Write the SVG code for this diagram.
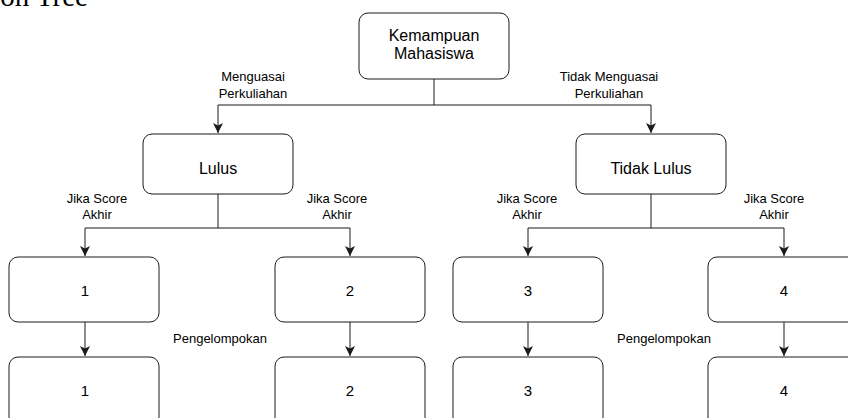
<svg xmlns="http://www.w3.org/2000/svg" width="848" height="418" viewBox="0 0 848 418">
  <style>
    .node rect { fill: #ffffff; stroke: #1a1a1a; stroke-width: 1; }
    .title { font-family: "Liberation Serif", "Times New Roman", serif; font-size: 29px; fill: #000; }
    .lbl { font-family: "Liberation Sans", Arial, sans-serif; font-size: 16px; fill: #000; text-anchor: middle; }
    .num { font-family: "Liberation Sans", Arial, sans-serif; font-size: 15px; fill: #000; text-anchor: middle; }
    .elbl { font-family: "Liberation Sans", Arial, sans-serif; font-size: 13px; fill: #000; text-anchor: middle; }
    .edges path { fill: none; stroke: #1a1a1a; stroke-width: 1; }
  </style>
  <defs>
    <marker id="arrow" viewBox="0 0 10 10" refX="10" refY="5" markerWidth="10" markerHeight="10" markerUnits="userSpaceOnUse" orient="auto">
      <path d="M0,0 L10,5 L0,10 L2.5,5 Z" fill="#1a1a1a"/>
    </marker>
  </defs>
  <rect width="848" height="418" fill="#ffffff"/>

  <!-- page heading, partly outside the frame -->
  <text class="title" x="88" y="6" text-anchor="end">Decision Tree</text>

  <!-- connectors -->
  <g class="edges">
    <path d="M434,79 V105 H218 V133" marker-end="url(#arrow)"/>
    <path d="M434,105 H651 V133" marker-end="url(#arrow)"/>
    <path d="M218,194 V228 H85 V256" marker-end="url(#arrow)"/>
    <path d="M218,228 H350 V256" marker-end="url(#arrow)"/>
    <path d="M651,194 V228 H528 V256" marker-end="url(#arrow)"/>
    <path d="M651,228 H784 V256" marker-end="url(#arrow)"/>
    <path d="M85,322 V356" marker-end="url(#arrow)"/>
    <path d="M350,322 V356" marker-end="url(#arrow)"/>
    <path d="M528,322 V356" marker-end="url(#arrow)"/>
    <path d="M784,322 V356" marker-end="url(#arrow)"/>
  </g>

  <!-- connector labels -->
  <g id="edge-labels">
    <text class="elbl" x="253" y="80.5">Menguasai</text>
    <text class="elbl" x="253" y="97.5">Perkuliahan</text>
    <text class="elbl" x="609" y="80.5">Tidak Menguasai</text>
    <text class="elbl" x="609" y="97.5">Perkuliahan</text>
    <text class="elbl" x="97" y="202.5">Jika Score</text>
    <text class="elbl" x="97" y="218.5">Akhir</text>
    <text class="elbl" x="337" y="202.5">Jika Score</text>
    <text class="elbl" x="337" y="218.5">Akhir</text>
    <text class="elbl" x="527" y="202.5">Jika Score</text>
    <text class="elbl" x="527" y="218.5">Akhir</text>
    <text class="elbl" x="774" y="202.5">Jika Score</text>
    <text class="elbl" x="774" y="218.5">Akhir</text>
    <text class="elbl" x="220" y="342.5">Pengelompokan</text>
    <text class="elbl" x="664" y="342.5">Pengelompokan</text>
  </g>

  <!-- nodes -->
  <g id="kemampuan" class="node">
    <rect x="359" y="13" width="150" height="66" rx="9"/>
    <text class="lbl" x="434" y="41">Kemampuan</text>
    <text class="lbl" x="434" y="59">Mahasiswa</text>
  </g>
  <g id="lulus" class="node">
    <rect x="143" y="134" width="150" height="60" rx="9"/>
    <text class="lbl" x="218" y="174">Lulus</text>
  </g>
  <g id="tidak-lulus" class="node">
    <rect x="576" y="134" width="150" height="60" rx="9"/>
    <text class="lbl" x="651" y="174">Tidak Lulus</text>
  </g>

  <g id="skor-1" class="node">
    <rect x="9" y="257" width="150" height="65" rx="9"/>
    <text class="num" x="85" y="295.5">1</text>
  </g>
  <g id="skor-2" class="node">
    <rect x="275" y="257" width="150" height="65" rx="9"/>
    <text class="num" x="350" y="295.5">2</text>
  </g>
  <g id="skor-3" class="node">
    <rect x="453" y="257" width="150" height="65" rx="9"/>
    <text class="num" x="528" y="295.5">3</text>
  </g>
  <g id="skor-4" class="node">
    <rect x="708" y="257" width="150" height="65" rx="9"/>
    <text class="num" x="784" y="295.5">4</text>
  </g>

  <g id="kelompok-1" class="node">
    <rect x="9" y="357" width="150" height="70" rx="9"/>
    <text class="num" x="85" y="395.5">1</text>
  </g>
  <g id="kelompok-2" class="node">
    <rect x="275" y="357" width="150" height="70" rx="9"/>
    <text class="num" x="350" y="395.5">2</text>
  </g>
  <g id="kelompok-3" class="node">
    <rect x="453" y="357" width="150" height="70" rx="9"/>
    <text class="num" x="528" y="395.5">3</text>
  </g>
  <g id="kelompok-4" class="node">
    <rect x="708" y="357" width="150" height="70" rx="9"/>
    <text class="num" x="784" y="395.5">4</text>
  </g>
</svg>
